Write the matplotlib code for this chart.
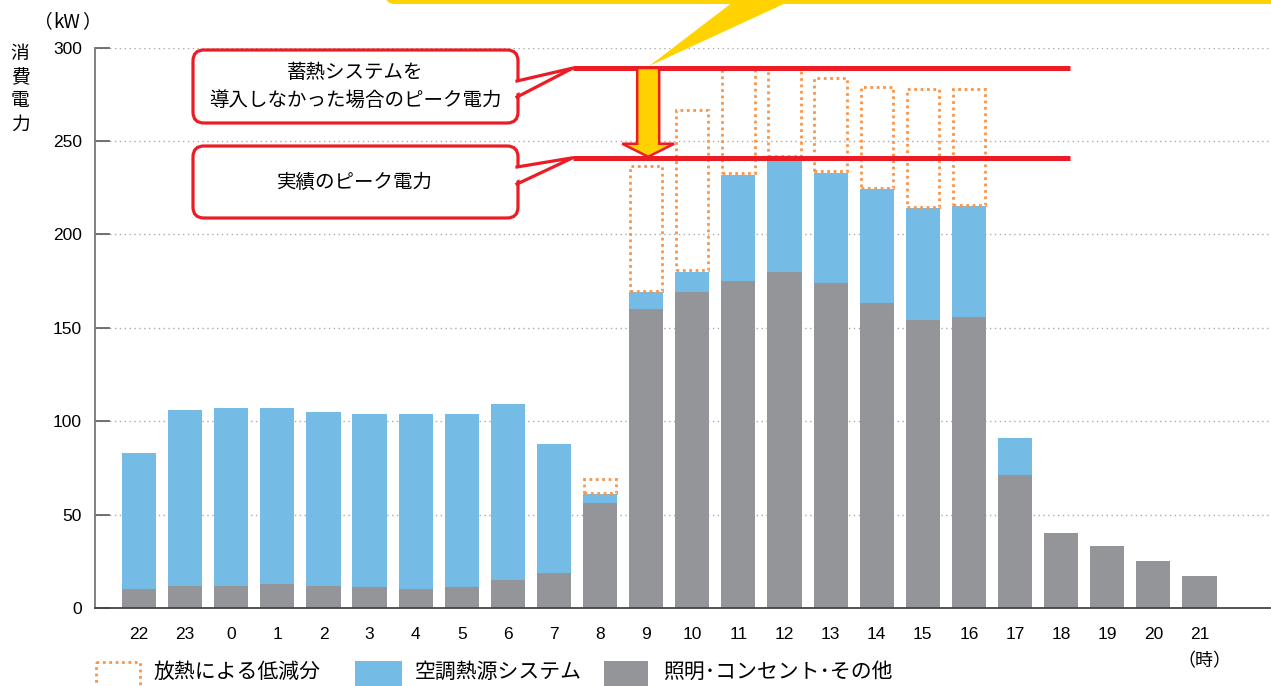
# -*- coding: utf-8 -*-
import numpy as np
import matplotlib
matplotlib.use('Agg')
import matplotlib.pyplot as plt
import matplotlib.transforms as mtransforms
from matplotlib.patches import FancyBboxPatch, Polygon, Rectangle

plt.rcParams['font.family'] = ['Liberation Sans', 'Noto Sans CJK JP']

#%% data ###################################################################
hours = ['22', '23', '0', '1', '2', '3', '4', '5', '6', '7', '8', '9', '10',
         '11', '12', '13', '14', '15', '16', '17', '18', '19', '20', '21']
other = [10, 12, 12, 13, 12, 11, 10, 11, 15, 19, 56, 160, 169, 175, 180,
         174, 163, 154, 156, 71, 40, 33, 25, 17]          # 照明・コンセント・その他
hvac = [73, 94, 95, 94, 93, 93, 94, 93, 94, 69, 5, 9, 11, 57, 61, 59, 61,
        60, 59, 20, 0, 0, 0, 0]                              # 空調熱源システム
reduc = [0, 0, 0, 0, 0, 0, 0, 0, 0, 0, 7, 67, 86, 56, 48, 50, 54, 63, 62,
         0, 0, 0, 0, 0]                                      # 放熱による低減分

lbl_reduc = '放熱による低減分'
lbl_hvac = '空調熱源システム'
lbl_other = '照明･コンセント･その他'
txt_peak_no = '蓄熱システムを\n導入しなかった場合のピーク電力'
txt_peak = '実績のピーク電力'
unit_y = 'kW'
unit_x = '時'

c_gray = '#939598'
c_blue = '#74bce6'
c_orange = '#f7964a'
c_red = '#ec1c24'
c_yellow = '#ffd200'
jp = ['Noto Sans CJK JP']

#%% figure ###################################################################
W, H = 1271, 686
fig = plt.figure(figsize=(W/100, H/100), dpi=100)
# pixel coordinates with origin at top-left
tpx = mtransforms.Affine2D().scale(1/W, -1/H).translate(0, 1) + fig.transFigure

ax = fig.add_axes([95/W, 1-608/H, 1175/W, 560.5/H])
x = np.arange(len(hours))
other = np.array(other); hvac = np.array(hvac); reduc = np.array(reduc)
total = other + hvac

ax.bar(x, other, width=0.74, color=c_gray, zorder=2)
ax.bar(x, hvac, bottom=other, width=0.74, color=c_blue, zorder=2)
m = reduc > 0
ax.bar(x[m], reduc[m], bottom=total[m]+0.8, width=0.7, fill=False,
       edgecolor=c_orange, linewidth=2.0, linestyle=(0, (1, 1.3)), zorder=3)

ax.set_xlim(-0.955, 24.53)
ax.set_ylim(0, 300)
ax.set_yticks(np.arange(0, 301, 50))
ax.set_xticks(x)
ax.set_xticklabels(hours)
for yy in range(50, 301, 50):
    ax.axhline(yy, color='#aaaaaa', lw=1.0, ls=(0, (1, 2.5)), zorder=1)
ax.tick_params(axis='y', direction='in', length=11, width=1.3, color='#666666',
               labelsize=12.5, pad=9.5)
ax.tick_params(axis='x', length=0, labelsize=12.5, pad=14)
for s in ['top', 'right']:
    ax.spines[s].set_visible(False)
ax.spines['left'].set_color('#777777')
ax.spines['left'].set_linewidth(1.3)
ax.spines['bottom'].set_color('#444444')
ax.spines['bottom'].set_linewidth(1.3)

#%% peak lines and callouts ###################################################
peak_no = (total + reduc).max()
peak = total.max()
x0_line, x1_line = 9.41, 20.2
ax.hlines([peak_no, peak], x0_line, x1_line, color=c_red, lw=3.6, zorder=6,
          clip_on=False)

def to_px(xd, yd):
    d = ax.transData.transform((xd, yd))
    return d[0], H - d[1]

for (top, bot), (w0, w1), txt in [((50, 123), (81, 97), txt_peak_no),
                                   ((146, 218), (167, 184), txt_peak)]:
    box = FancyBboxPatch((193, top), 325, bot-top,
                         boxstyle='round,pad=0,rounding_size=11',
                         facecolor='white', edgecolor=c_red, lw=2.3,
                         transform=tpx, zorder=7)
    fig.add_artist(box)
    tipx, tipy = to_px(x0_line, peak_no if txt == txt_peak_no else peak)
    fig.add_artist(Polygon([(512, w0+1.5), (tipx, tipy), (512, w1-1.5)],
                           closed=True, facecolor='white', edgecolor='none',
                           transform=tpx, zorder=8))
    fig.add_artist(plt.Line2D([517, tipx, 517], [w0, tipy, w1], color=c_red,
                              lw=2.3, transform=tpx, zorder=9))
    fig.text(355, (top+bot)/2, txt, transform=tpx, ha='center', va='center',
             fontsize=14, family=jp, linespacing=1.4, zorder=10)

# yellow arrow between the two peaks
cx = to_px(11, 0)[0] + 2
yU = to_px(0, peak_no)[1]
yL = to_px(0, peak)[1]
arr = [(cx-11, yU), (cx+11, yU), (cx+11, yL-14), (cx+26, yL-14), (cx, yL-1),
       (cx-26, yL-14), (cx-11, yL-14)]
fig.add_artist(Polygon(arr, closed=True, facecolor=c_yellow, edgecolor=c_red,
                       lw=1.8, transform=tpx, zorder=11))

# yellow speech bubble (cut off at top)
fig.add_artist(FancyBboxPatch((385, -40), 1000, 44,
                              boxstyle='round,pad=0,rounding_size=10',
                              facecolor=c_yellow, edgecolor='none',
                              transform=tpx, zorder=5))
fig.add_artist(Polygon([(733, 2), (788, 2), (cx+1, yU-2)], closed=True,
                       facecolor=c_yellow, edgecolor='none', transform=tpx,
                       zorder=5))

#%% labels ###################################################################
# full-width brackets drawn apart so they keep their wide spacing
for xt, t in [(43, '（'), (67, unit_y), (91, '）')]:
    fig.text(xt, 22, t, transform=tpx, ha='center', va='center',
             fontsize=13.5, family=jp)
fig.text(20, 89, '消\n費\n電\n力', transform=tpx, ha='center', va='center',
         fontsize=13.5, family=jp, linespacing=1.15)
for xt, t in [(1186, '（'), (1204, unit_x), (1221, '）')]:
    fig.text(xt, 661, t, transform=tpx, ha='center', va='center',
             fontsize=13, family=jp)

# legend
fig.add_artist(Rectangle((96, 662), 44, 30, facecolor='white', edgecolor=c_orange,
                         lw=2.0, ls=(0, (1, 1.3)), transform=tpx))
fig.add_artist(Rectangle((355, 661), 47, 30, facecolor=c_blue, edgecolor='none',
                         transform=tpx))
fig.add_artist(Rectangle((604, 661), 44, 30, facecolor=c_gray, edgecolor='none',
                         transform=tpx))
for xt, t in [(154, lbl_reduc), (415, lbl_hvac), (663, lbl_other)]:
    fig.text(xt, 672, t, transform=tpx, ha='left', va='center', fontsize=15,
             family=jp)

fig.savefig('out.png', dpi=100)
